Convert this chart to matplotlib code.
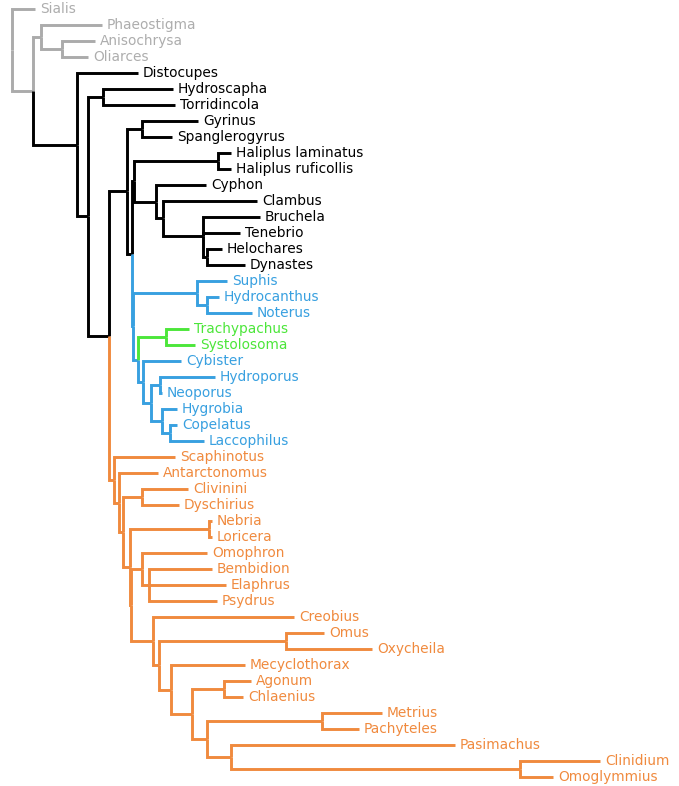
import matplotlib
matplotlib.use('Agg')
import matplotlib.pyplot as plt

# ---- leaves (top to bottom) ----
leaf_names = ["Sialis", "Phaeostigma", "Anisochrysa", "Oliarces", "Distocupes",
              "Hydroscapha", "Torridincola", "Gyrinus", "Spanglerogyrus",
              "Haliplus laminatus", "Haliplus ruficollis", "Cyphon", "Clambus",
              "Bruchela", "Tenebrio", "Helochares", "Dynastes", "Suphis",
              "Hydrocanthus", "Noterus", "Trachypachus", "Systolosoma", "Cybister",
              "Hydroporus", "Neoporus", "Hygrobia", "Copelatus", "Laccophilus",
              "Scaphinotus", "Antarctonomus", "Clivinini", "Dyschirius", "Nebria",
              "Loricera", "Omophron", "Bembidion", "Elaphrus", "Psydrus", "Creobius",
              "Omus", "Oxycheila", "Mecyclothorax", "Agonum", "Chlaenius", "Metrius",
              "Pachyteles", "Pasimachus", "Clinidium", "Omoglymmius"]
leaf_x = [35, 102, 95, 88, 138,
          173, 175, 198, 172,
          231, 231, 206, 257,
          260, 240, 222, 245, 227,
          219, 252, 189, 195, 181,
          215, 162, 177, 177, 204,
          175, 158, 188, 179, 212,
          212, 207, 212, 226, 217, 294,
          324, 372, 245, 251, 243, 382,
          359, 455, 600, 553]
leaf_group = (["grey"] * 4 + ["black"] * 13 + ["blue"] * 3 + ["green"] * 2 +
              ["blue"] * 6 + ["orange"] * 21)

# ---- internal nodes ----
node_names = ["root", "A", "B", "C", "Beetles", "D", "HT", "E", "F", "Gyr", "G", "H",
              "Hal", "P", "Q", "S", "T", "I", "N", "NH", "J", "K", "M1", "M2", "HN",
              "HCL", "CL", "U", "V", "W", "Cliv", "X", "NL", "Y", "Om", "BEP", "Z",
              "OO", "Z2", "Z3", "Z4", "AC", "Z5", "MP", "Z6", "CO"]
node_x = [12, 33, 41, 62, 77, 88, 103, 109, 126.5, 142, 132, 133.5,
          218, 156, 163, 203, 207, 133, 197, 207, 137.5, 166, 143, 151, 160,
          162, 170, 114, 119, 123, 142, 130, 209, 130.5, 142, 149, 153,
          286, 159, 171, 192, 224, 207, 322, 231, 520]
node_children = [["Sialis", "A"], ["B", "Beetles"], ["Phaeostigma", "C"],
                 ["Anisochrysa", "Oliarces"], ["Distocupes", "D"], ["HT", "E"],
                 ["Hydroscapha", "Torridincola"], ["F", "U"], ["Gyr", "G"],
                 ["Gyrinus", "Spanglerogyrus"], ["H", "I"], ["Hal", "P"],
                 ["Haliplus laminatus", "Haliplus ruficollis"], ["Cyphon", "Q"],
                 ["Clambus", "S"], ["Bruchela", "Tenebrio", "T"],
                 ["Helochares", "Dynastes"], ["N", "J"], ["Suphis", "NH"],
                 ["Hydrocanthus", "Noterus"], ["K", "M1"],
                 ["Trachypachus", "Systolosoma"], ["Cybister", "M2"], ["HN", "HCL"],
                 ["Hydroporus", "Neoporus"], ["Hygrobia", "CL"],
                 ["Copelatus", "Laccophilus"], ["Scaphinotus", "V"],
                 ["Antarctonomus", "W"], ["Cliv", "X"], ["Clivinini", "Dyschirius"],
                 ["NL", "Y"], ["Nebria", "Loricera"], ["Om", "Z"],
                 ["Omophron", "BEP"], ["Bembidion", "Elaphrus", "Psydrus"],
                 ["Creobius", "Z2"], ["Omus", "Oxycheila"], ["OO", "Z3"],
                 ["Mecyclothorax", "Z4"], ["AC", "Z5"], ["Agonum", "Chlaenius"],
                 ["MP", "Z6"], ["Metrius", "Pachyteles"], ["Pasimachus", "CO"],
                 ["Clinidium", "Omoglymmius"]]
node_group = ["grey", "grey", "grey", "grey", "black", "black", "black", "black",
              "black", "black", "black", "black", "black", "black", "black", "black",
              "black", "blue", "blue", "blue", "blue", "green", "blue", "blue", "blue",
              "blue", "blue"] + ["orange"] * 19

# ---- style ----
line_colors = {"grey": "#ABABAB", "black": "#000000", "blue": "#38A0E0",
               "green": "#4CE63A", "orange": "#F08A3E"}
text_colors = {"grey": "#ADADAD", "black": "#000000", "blue": "#38A0E0",
               "green": "#4CE63A", "orange": "#F08A3E"}

fig = plt.figure(figsize=(6.79, 7.86), dpi=100)
ax = fig.add_axes([0, 0, 1, 1])
ax.set_xlim(0, 679)
ax.set_ylim(48.5625, -0.5625)
ax.axis("off")

X, Y, G = {}, {}, {}
for i, (n, x, g) in enumerate(zip(leaf_names, leaf_x, leaf_group)):
    X[n], Y[n], G[n] = x, i, g
children = dict(zip(node_names, node_children))
for n, x, g in zip(node_names, node_x, node_group):
    X[n], G[n] = x, g


def ypos(n):
    if n not in Y:
        Y[n] = sum(ypos(c) for c in children[n]) / len(children[n])
    return Y[n]


ypos("root")

for p in node_names:
    for c in children[p]:
        ax.plot([X[p], X[p], X[c]], [Y[p], Y[c], Y[c]], color=line_colors[G[c]],
                lw=2.1, solid_joinstyle="miter", solid_capstyle="butt")

for n in leaf_names:
    ax.text(X[n] + 5, Y[n], n, color=text_colors[G[n]], fontsize=9.9,
            family="DejaVu Sans", va="center", ha="left")

fig.savefig("out.png", dpi=100)
